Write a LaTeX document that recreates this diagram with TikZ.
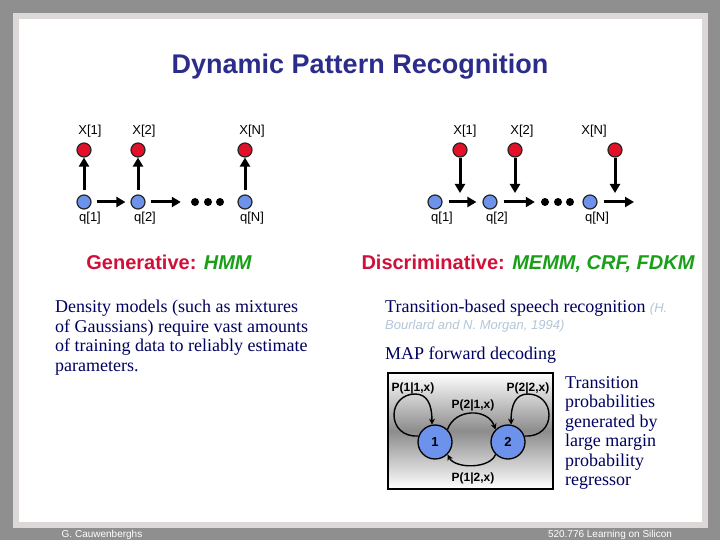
\documentclass[tikz,border=0pt]{standalone}
\usepackage{fontspec}
\setmainfont{Liberation Serif}
\newfontfamily\arial{Liberation Sans}
\usepackage{xcolor}
\usepackage{tikz}
\usetikzlibrary{arrows.meta}

\definecolor{pagegray}{RGB}{143,143,143}
\definecolor{framegray}{RGB}{221,216,216}
\definecolor{titleblue}{RGB}{44,44,138}
\definecolor{navy}{RGB}{0,0,96}
\definecolor{headred}{RGB}{208,16,56}
\definecolor{headgreen}{RGB}{24,160,24}
\definecolor{refgray}{RGB}{180,198,216}
\definecolor{obsred}{RGB}{226,16,40}
\definecolor{hidblue}{RGB}{108,146,236}

\begin{document}
\begin{tikzpicture}[x=1pt, y=-1pt,
    >={Triangle[length=9pt,width=10pt]},
    obs/.style={circle, draw=black!85, line width=1.2pt, fill=obsred,
                minimum size=14pt, inner sep=0pt},
    hid/.style={circle, draw=black!85, line width=1.2pt, fill=hidblue,
                minimum size=14pt, inner sep=0pt},
    dotnode/.style={circle, fill=black, minimum size=8pt, inner sep=0pt},
    seqlabel/.style={anchor=base, inner sep=0pt, font=\arial\fontsize{13}{15}\selectfont},
    flow/.style={->, line width=3pt},
    head/.style={anchor=base, font=\arial\bfseries\fontsize{20}{24}\selectfont, text=headred},
    body/.style={anchor=north west, align=left, inner sep=0pt, text=navy,
                 font=\fontsize{18}{19.6}\selectfont},
    state/.style={circle, draw=black, line width=1.3pt, fill=hidblue,
                  minimum size=34pt, inner sep=0pt, font=\arial\bfseries\fontsize{13}{15}\selectfont},
    prob/.style={font=\arial\bfseries\fontsize{12}{14}\selectfont, inner sep=0pt},
    trans/.style={-{Stealth[length=6pt,width=6pt]}, line width=1.4pt},
    panel/.style={draw=black, line width=2pt, minimum width=165pt, minimum height=116pt,
                  top color=white, bottom color=white, middle color=black!45},
    foot/.style={anchor=base, text=white, font=\arial\fontsize{10}{12}\selectfont}]
  \useasboundingbox (0,0) rectangle (720,540);
  \fill[pagegray] (0,0) rectangle (720,540);
  \fill[framegray] (13,13) rectangle (708,528);
  \fill[white] (19,19) rectangle (702,522);

  \node[anchor=base, text=titleblue, font=\arial\bfseries\fontsize{27}{32}\selectfont]
    (title) at (360,74) {Dynamic Pattern Recognition};

  % generative chain
  \node[obs] (xa1) at (84,150) {};
  \node[obs] (xa2) at (138,150) {};
  \node[obs] (xaN) at (245,150) {};
  \node[hid] (qa1) at (84,202) {};
  \node[hid] (qa2) at (138,202) {};
  \node[hid] (qaN) at (245,202) {};
  \node[dotnode] (da1) at (195,202) {};
  \node[dotnode] (da2) at (208,202) {};
  \node[dotnode] (da3) at (220,202) {};
  \node[seqlabel] (lxa1) at (90,135) {X[1]};
  \node[seqlabel] (lxa2) at (144,135) {X[2]};
  \node[seqlabel] (lxaN) at (252,135) {X[N]};
  \node[seqlabel] (lqa1) at (90,222) {q[1]};
  \node[seqlabel] (lqa2) at (145,222) {q[2]};
  \node[seqlabel] (lqaN) at (252,222) {q[N]};
  \draw[flow, shorten <=4pt] (qa1) -- (xa1);
  \draw[flow, shorten <=4pt] (qa2) -- (xa2);
  \draw[flow, shorten <=4pt] (qaN) -- (xaN);
  \draw[flow, shorten <=5pt, shorten >=5pt] (qa1) -- (qa2);
  \draw[flow, shorten <=5pt, shorten >=10pt] (qa2) -- (da1);

  % discriminative chain
  \node[obs] (xb1) at (460,150) {};
  \node[obs] (xb2) at (515,150) {};
  \node[obs] (xbN) at (615,150) {};
  \node[hid] (qb1) at (435,202) {};
  \node[hid] (qb2) at (490,202) {};
  \node[hid] (qbN) at (590,202) {};
  \node[dotnode] (db1) at (545,202) {};
  \node[dotnode] (db2) at (558,202) {};
  \node[dotnode] (db3) at (570,202) {};
  \coordinate (tb1) at (460,193);
  \coordinate (tb2) at (515,193);
  \coordinate (tbN) at (615,193);
  \coordinate (qend) at (634,202);
  \node[seqlabel] (lxb1) at (465,135) {X[1]};
  \node[seqlabel] (lxb2) at (522,135) {X[2]};
  \node[seqlabel] (lxbN) at (594,135) {X[N]};
  \node[seqlabel] (lqb1) at (442,222) {q[1]};
  \node[seqlabel] (lqb2) at (497,222) {q[2]};
  \node[seqlabel] (lqbN) at (597,222) {q[N]};
  \draw[flow] (xb1) -- (tb1);
  \draw[flow] (xb2) -- (tb2);
  \draw[flow] (xbN) -- (tbN);
  \draw[flow, shorten <=6pt, shorten >=6pt] (qb1) -- (qb2);
  \draw[flow, shorten <=6pt, shorten >=6pt] (qb2) -- (db1);
  \draw[flow, shorten <=6pt] (qbN) -- (qend);

  % headings and text
  \node[head] (gen) at (169,269) {Generative: \textcolor{headgreen}{\itshape HMM}};
  \node[head] (dis) at (528,269) {Discriminative: \textcolor{headgreen}{\itshape MEMM, CRF, FDKM}};
  \node[body] (dens) at (55,300) {Density models (such as mixtures\\of Gaussians) require vast amounts\\of training data to reliably estimate\\parameters.};
  \node[body] (tbsr) at (385,300) {Transition-based speech recognition \textcolor{refgray}{\arial\itshape\fontsize{13}{15}\selectfont (H.}};
  \node[anchor=base west, inner sep=0pt, text=refgray, font=\arial\itshape\fontsize{13}{15}\selectfont]
    (bour) at (385,329) {Bourlard and N. Morgan, 1994)};
  \node[anchor=base west, inner sep=0pt, text=navy, font=\fontsize{18}{19.6}\selectfont]
    (map) at (385,359) {MAP forward decoding};
  \node[body, font=\fontsize{18}{19.5}\selectfont] (capt) at (565,376)
    {Transition\\probabilities\\generated by\\large margin\\probability\\regressor};

  % two-state transition graph
  \node[panel] (box) at (470.5,431) {};
  \node[state] (s1) at (435,442) {1};
  \node[state] (s2) at (508,442) {2};
  \node[prob] (p11) at (413,388) {P(1|1,x)};
  \node[prob] (p22) at (528,388) {P(2|2,x)};
  \node[prob] (p21) at (473,405) {P(2|1,x)};
  \node[prob] (p12) at (473,478) {P(1|2,x)};
  \draw[trans] (s1.160) .. controls (403,437) and (394,427) .. (394,415)
    .. controls (394,403) and (403,394) .. (415,394)
    .. controls (427,394) and (432,404) .. (s1.100);
  \draw[trans] (s2.20) .. controls (540,437) and (549,427) .. (549,415)
    .. controls (549,403) and (540,394) .. (528,394)
    .. controls (516,394) and (511,404) .. (s2.80);
  \draw[trans] (s1.45) .. controls (455,408) and (488,408) .. (s2.135);
  \draw[trans] (s2.225) .. controls (490,469) and (455,469) .. (s1.315);

  \node[foot] (auth) at (102,537) {G. Cauwenberghs};
  \node[foot] (course) at (610,537) {520.776 Learning on Silicon};
\end{tikzpicture}
\end{document}
